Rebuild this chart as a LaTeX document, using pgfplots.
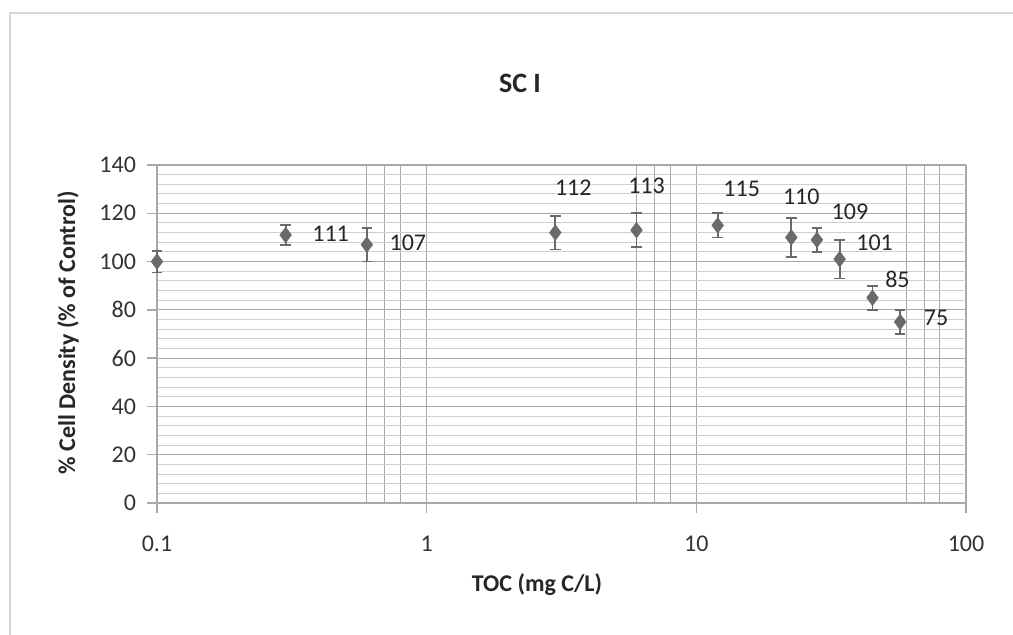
\documentclass[border=0pt]{standalone}
\usepackage{fontspec}
\setmainfont{Carlito}
\usepackage{pgfplots}
\usepackage{pgfplotstable}
\pgfplotsset{compat=1.18}

\definecolor{markgray}{HTML}{6A6A6A}
\definecolor{gridmaj}{HTML}{A8A8A8}
\definecolor{gridmin}{HTML}{CFCFCF}
\definecolor{framegray}{HTML}{D6D6D6}

% TOC, mean %, error, label offsets (pt)
\pgfplotstableread{
x     y    err  dx    dy
0.1   100  4.5  0     0
0.3   111  4    22.5  0.5
0.6   107  7    20.5  1
3     112  7    9     22.5
6     113  7    5     22
12    115  5    12    18
22.5  110  8    5     20.5
28    109  5    16.5  14
34    101  8    17.5  8
45    85   5    12.5  9
57    75   5    18    2
}\scdata

\begin{document}
\begin{tikzpicture}[x=1pt,y=1pt]
\path[use as bounding box] (0,0) rectangle (506.5,317.5);
\draw[framegray, line width=0.8pt] (5,0) -- (5,311) -- (506.5,311);

\begin{axis}[
  at={(78.5pt,66pt)}, anchor=south west,
  scale only axis, width=404.5pt, height=169pt,
  xmode=log, log basis x=10,
  xmin=0.1, xmax=100, ymin=0, ymax=140,
  xtick={0.1,1,10,100}, xticklabels={0.1,1,10,100},
  minor xtick={0.6,0.7,0.8,6,7,8,60,70,80},
  ytick={0,20,...,140},
  minor ytick={4,8,...,136},
  grid=both,
  major grid style={gridmaj, line width=0.6pt},
  minor grid style={gridmin, line width=0.5pt},
  minor x grid style={gridmaj, line width=0.6pt},
  axis line style={gridmaj, line width=0.7pt},
  axis x line*=bottom, axis y line*=left,
  tick style={gridmaj, line width=0.7pt},
  major tick length=5pt, minor tick length=0pt,
  tick pos=left,
  xtick align=outside, ytick align=outside,
  /pgf/number format/assume math mode=true,
  tick label style={font=\fontsize{12}{14}\selectfont, text=black!80},
  yticklabel style={xshift=-2pt},
  xticklabel style={yshift=-8pt},
  clip=false,
]
\addplot[
  only marks,
  mark=diamond*, mark size=3.8pt,
  mark options={fill=markgray, draw=markgray},
  error bars/.cd, y dir=both, y explicit,
  error bar style={markgray, line width=0.9pt},
  error mark options={markgray, rotate=90, mark size=2.6pt, line width=0.9pt},
] table[x=x, y=y, y error=err] {\scdata};

\addplot[
  only marks, mark=none,
  visualization depends on={\thisrow{dx} \as \ldx},
  visualization depends on={\thisrow{dy} \as \ldy},
  nodes near coords={\ifdim\ldx pt=0pt\else\pgfmathprintnumber{\pgfplotspointmeta}\fi},
  point meta=explicit,
  nodes near coords style={font=\fontsize{12}{14}\selectfont, text=black!85,
    anchor=center, xshift=\ldx pt, yshift=\ldy pt},
] table[x=x, y=y, meta=y] {\scdata};
\end{axis}

\node[font=\bfseries\fontsize{14}{16}\selectfont, text=black!85] at (260,276) {SC I};
\node[font=\bfseries\fontsize{12}{14}\selectfont, text=black!85] at (268.5,25) {TOC (mg C/L)};
\node[font=\bfseries\fontsize{12}{14}\selectfont, text=black!85, rotate=90] at (34,151) {\% Cell Density (\% of Control)};
\end{tikzpicture}
\end{document}
